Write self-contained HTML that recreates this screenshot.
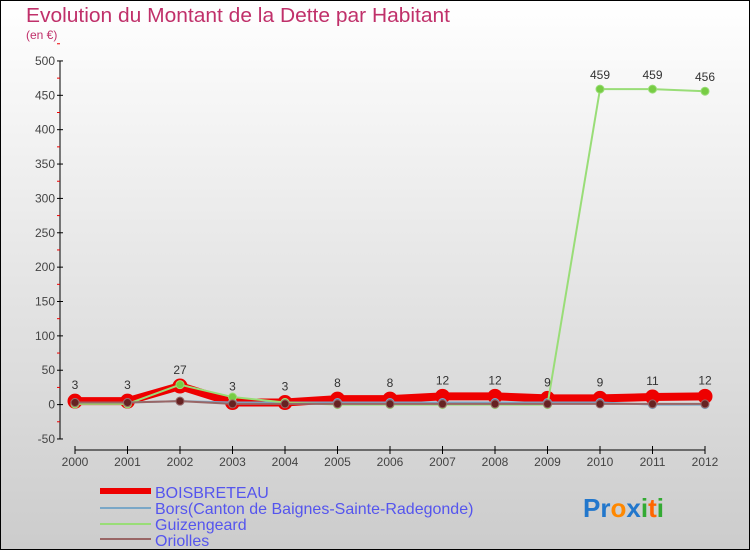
<!DOCTYPE html>
<html><head><meta charset="utf-8"><style>
html,body{margin:0;padding:0}
body{width:750px;height:550px;overflow:hidden;font-family:"Liberation Sans",sans-serif}
svg{display:block}
</style></head><body>
<svg id="chart" width="750" height="550" xmlns="http://www.w3.org/2000/svg">
<defs><linearGradient id="bg" x1="0" y1="0" x2="0" y2="1"><stop offset="0" stop-color="#ffffff"/><stop offset="1" stop-color="#cccccc"/></linearGradient></defs>
<rect x="0.5" y="0.5" width="749" height="549" fill="url(#bg)" stroke="#000"/>
<text x="26" y="22" font-size="20" fill="#c0306a" textLength="424" lengthAdjust="spacingAndGlyphs">Evolution du Montant de la Dette par Habitant</text>
<text x="26" y="39" font-size="12" fill="#c0306a">(en €)</text>
<g id="axes"></g>
<g id="series"></g>
<g id="legend">
<line x1="100" y1="491" x2="151" y2="491" stroke="#ee0000" stroke-width="6"/>
<text x="155" y="498" font-size="16" fill="#5555ee">BOISBRETEAU</text>
<line x1="100" y1="508" x2="151" y2="508" stroke="#7aa7c7" stroke-width="2"/>
<text x="155" y="514" font-size="16" fill="#5555ee">Bors(Canton de Baignes-Sainte-Radegonde)</text>
<line x1="100" y1="524" x2="151" y2="524" stroke="#99dd77" stroke-width="2"/>
<text x="155" y="530" font-size="16" fill="#5555ee">Guizengeard</text>
<line x1="100" y1="539" x2="151" y2="539" stroke="#996666" stroke-width="2"/>
<text x="155" y="546" font-size="16" fill="#5555ee">Oriolles</text>
</g>
<g font-size="26" font-weight="bold">
<text x="583" y="517"><tspan fill="#2277cc">Pr</tspan><tspan fill="#ff8800">o</tspan><tspan fill="#2277cc">x</tspan><tspan fill="#33aa33">i</tspan><tspan fill="#ff6600">t</tspan><tspan fill="#33aa33">i</tspan></text>
</g>
</svg>
<script>
const years=[2000,2001,2002,2003,2004,2005,2006,2007,2008,2009,2010,2011,2012];
const yTicks=[-50,0,50,100,150,200,250,300,350,400,450,500];
const boisbreteau=[5,5,27,3,3,8,8,12,12,9,9,11,12];
const bors=[3,3,5,3,3,3,3,3,3,3,3,0,0];
const guizengeard=[1,1,29,11,3,0,0,0,0,0,459,459,456];
const oriolles=[3,3,5,1,1,1,1,1,1,1,1,1,1];
const boisLabels=[3,3,27,3,3,8,8,12,12,9,9,11,12];
const guizLabels=[null,null,null,null,null,null,null,null,null,null,459,459,456];
const NS="http://www.w3.org/2000/svg";
function X(i){return 75+i*52.5;}
function Y(v){return 404.6-v*0.6873;}
function el(tag,attrs,parent){const e=document.createElementNS(NS,tag);for(const k in attrs)e.setAttribute(k,attrs[k]);parent.appendChild(e);return e;}
const axes=document.getElementById('axes');
const ya=el('line',{x1:60,y1:Y(500),x2:60,y2:Y(-50),stroke:'#000'},axes);


yTicks.forEach(t=>{
 el('line',{x1:57,y1:Y(t),x2:63,y2:Y(t),stroke:'#000'},axes);
 el('line',{x1:57,y1:Y(t+25),x2:60,y2:Y(t+25),stroke:'#ee0000'},axes);
 const tx=el('text',{x:55,y:Y(t)+4,'font-size':12,fill:'#444','text-anchor':'end'},axes);
 tx.textContent=t;
 
 
});
const xa=el('line',{x1:X(0),y1:450,x2:X(12),y2:450,stroke:'#000'},axes);


years.forEach((yr,i)=>{
 el('line',{x1:X(i),y1:446,x2:X(i),y2:454,stroke:'#000'},axes);
 const tx=el('text',{x:X(i),y:466,'font-size':12,fill:'#444','text-anchor':'middle'},axes);
 tx.textContent=yr;
 
 
});
const sg=document.getElementById('series');
function draw(name,vals,color,w,r,dot){
 const g=el('g',{},sg);
 
 
 el('polyline',{points:vals.map((v,i)=>X(i)+','+Y(v)).join(' '),fill:'none',stroke:color,'stroke-width':w,'stroke-linejoin':'round'},g);
 vals.forEach((v,i)=>{const c=el('circle',{cx:X(i),cy:Y(v),r:r,fill:dot,stroke:color,'stroke-width':1},g);
 
 });
}
draw('boisbreteau',boisbreteau,'#ee0000',8,7,'#ee0000');
draw('bors',bors,'#7aa7c7',2,4,'#3377bb');
draw('guizengeard',guizengeard,'#99dd77',2,4,'#77cc44');
draw('oriolles',oriolles,'#996666',2,4,'#662222');
const lg=el('g',{'font-size':12,fill:'#333','text-anchor':'middle'},sg);
boisLabels.forEach((v,i)=>{const t=el('text',{x:X(i),y:Y(boisbreteau[i])-12},lg);t.textContent=v;
 
 });
guizLabels.forEach((v,i)=>{if(v===null)return;const t=el('text',{x:X(i),y:Y(guizengeard[i])-10},lg);t.textContent=v;
 
 });
</script>
</body></html>
